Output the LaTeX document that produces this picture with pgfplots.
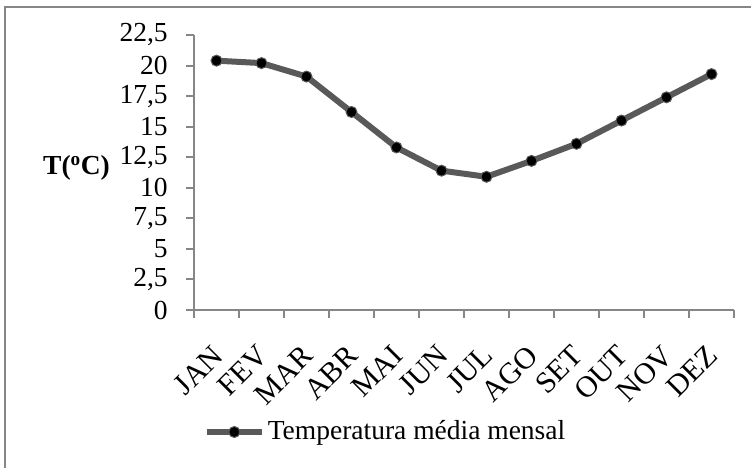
\documentclass[border=0pt]{standalone}
\usepackage{fontspec}
\setmainfont{Liberation Serif}
\usepackage{pgfplots}
\pgfplotsset{compat=1.18}
\definecolor{linegray}{HTML}{595959}
\definecolor{axgray}{HTML}{868686}
\begin{document}
\fontsize{27.5bp}{33bp}\selectfont
\begin{tikzpicture}
\useasboundingbox (0,0) rectangle (751bp,468bp);
\draw[axgray, line width=2bp] (5bp,-10bp) -- (5bp,461bp) -- (760bp,461bp);
\begin{axis}[
  at={(194bp,158bp)}, anchor=south west,
  scale only axis, width=540bp, height=275bp,
  xmin=0, xmax=12, ymin=0, ymax=22.5,
  axis x line=bottom, axis y line=left,
  axis line style={-, axgray, line width=2bp},
  tick style={axgray, line width=2bp},
  major tick length=8bp, tick align=outside,
  xtick={0,1,...,12},
  xticklabels={JAN,FEV,MAR,ABR,MAI,JUN,JUL,AGO,SET,OUT,NOV,DEZ},
  x tick label as interval,
  x tick label style={rotate=45, anchor=north east, inner sep=2bp, xshift=-20bp, yshift=-12bp,
    font=\fontsize{30bp}{36bp}\selectfont},
  ytick={0,2.5,5,7.5,10,12.5,15,17.5,20,22.5},
  y tick label style={xshift=-9bp},
  /pgf/number format/.cd, use comma, 1000 sep={}, assume math mode=true,
  /pgfplots/.cd,
  ylabel={\bfseries T(\textsuperscript{o}C)},
  every axis y label/.style={at={(axis description cs:-0.2176,0.516)}, anchor=center, rotate=0},
  legend style={at={(axis description cs:0.3556,-0.4436)}, anchor=center, draw=none, fill=none,
    inner xsep=0pt, nodes={inner xsep=3bp}},
  legend image code/.code={\draw[mark repeat=2, mark phase=2] plot coordinates {(0bp,0bp) (27.5bp,0bp) (55bp,0bp)};},
]
\addplot[linegray, line width=6bp, mark=*, mark size=5.5bp,
  mark options={fill=black, draw=linegray, line width=1bp}]
  coordinates {
  (0.5,20.4) (1.5,20.2) (2.5,19.1) (3.5,16.2) (4.5,13.3) (5.5,11.4)
  (6.5,10.9) (7.5,12.2) (8.5,13.6) (9.5,15.5) (10.5,17.4) (11.5,19.3)
  };
\addlegendentry{Temperatura média mensal}
\end{axis}
\end{tikzpicture}
\end{document}
